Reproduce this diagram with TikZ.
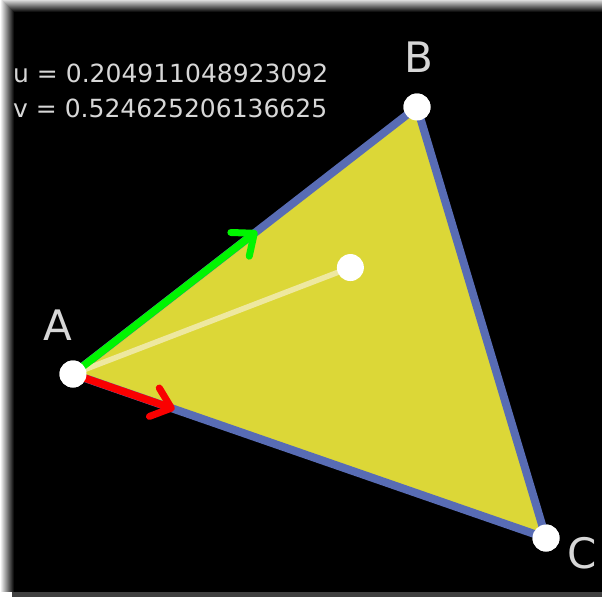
\documentclass[tikz,border=0pt]{standalone}
\usepackage{fontspec}
\setmainfont{DejaVu Sans}
\usetikzlibrary{arrows.meta,calc}
\definecolor{edgeblue}{RGB}{88,108,180}
\definecolor{triyellow}{RGB}{220,215,55}
\definecolor{txtgray}{RGB}{215,215,215}
\definecolor{paleline}{RGB}{238,232,160}
\definecolor{vgreen}{RGB}{0,245,0}
\definecolor{vred}{RGB}{250,0,0}
\tikzset{
  dot/.style={circle,fill=white,inner sep=0pt,minimum size=27pt},
  edgeline/.style={draw=edgeblue,line width=8pt,line join=round},
  vecarrow/.style={line width=7.5pt,-{Straight Barb[length=18pt,width=30pt,line width=7pt,round]}},
  vlabel/.style={text=txtgray,font=\fontsize{42}{48}\selectfont,anchor=base,inner sep=0pt},
  info/.style={text=txtgray,font=\fontsize{25}{30}\selectfont,anchor=base west,inner sep=0pt}
}
\begin{document}
\begin{tikzpicture}[x=1pt,y=-1pt]
\useasboundingbox (0,0) rectangle (602,597);
\fill[white] (0,0) rectangle (602,597);
\foreach \i in {0,...,14}{
  \pgfmathsetmacro{\g}{\i*100/14}
  \fill[black!\g!white] (\i,\i-2) rectangle (602,592);
}
\fill[black!75!white] (12,592) rectangle (602,597);
% vertices
\node[dot] (A) at (73,374) {};
\node[dot] (B) at (417,107) {};
\node[dot] (C) at (546,538) {};
% triangle
\fill[triyellow] (A.center) -- (B.center) -- (C.center) -- cycle;
\draw[edgeline] (A.center) -- (B.center) -- (C.center) -- cycle;
% vectors
\coordinate (gv) at ($(A.center)!0.535!(B.center)$);
\coordinate (rv) at ($(A.center)!0.215!(C.center)$);
\coordinate (pp) at ($(A.center)!0.524625206136625!(B.center)+(A.center)!0.204911048923092!(C.center)-(A.center)$);
\draw[paleline,line width=5.5pt] (A.center) -- (pp);
\draw[vgreen,vecarrow] (A.center) -- (gv);
\draw[vred,vecarrow] (A.center) -- (rv);
\node[dot] (P) at (pp) {};
% redraw vertex dots on top
\node[dot] at (A) {};
\node[dot] at (B) {};
\node[dot] at (C) {};
% labels
\node[vlabel] (la) at (58,340) {A};
\node[vlabel] (lb) at (419,72) {B};
\node[vlabel] (lc) at (582,568) {C};
\node[info] (tu) at (13,82) {u = 0.204911048923092};
\node[info] (tv) at (13,117) {v = 0.524625206136625};
\end{tikzpicture}
\end{document}
